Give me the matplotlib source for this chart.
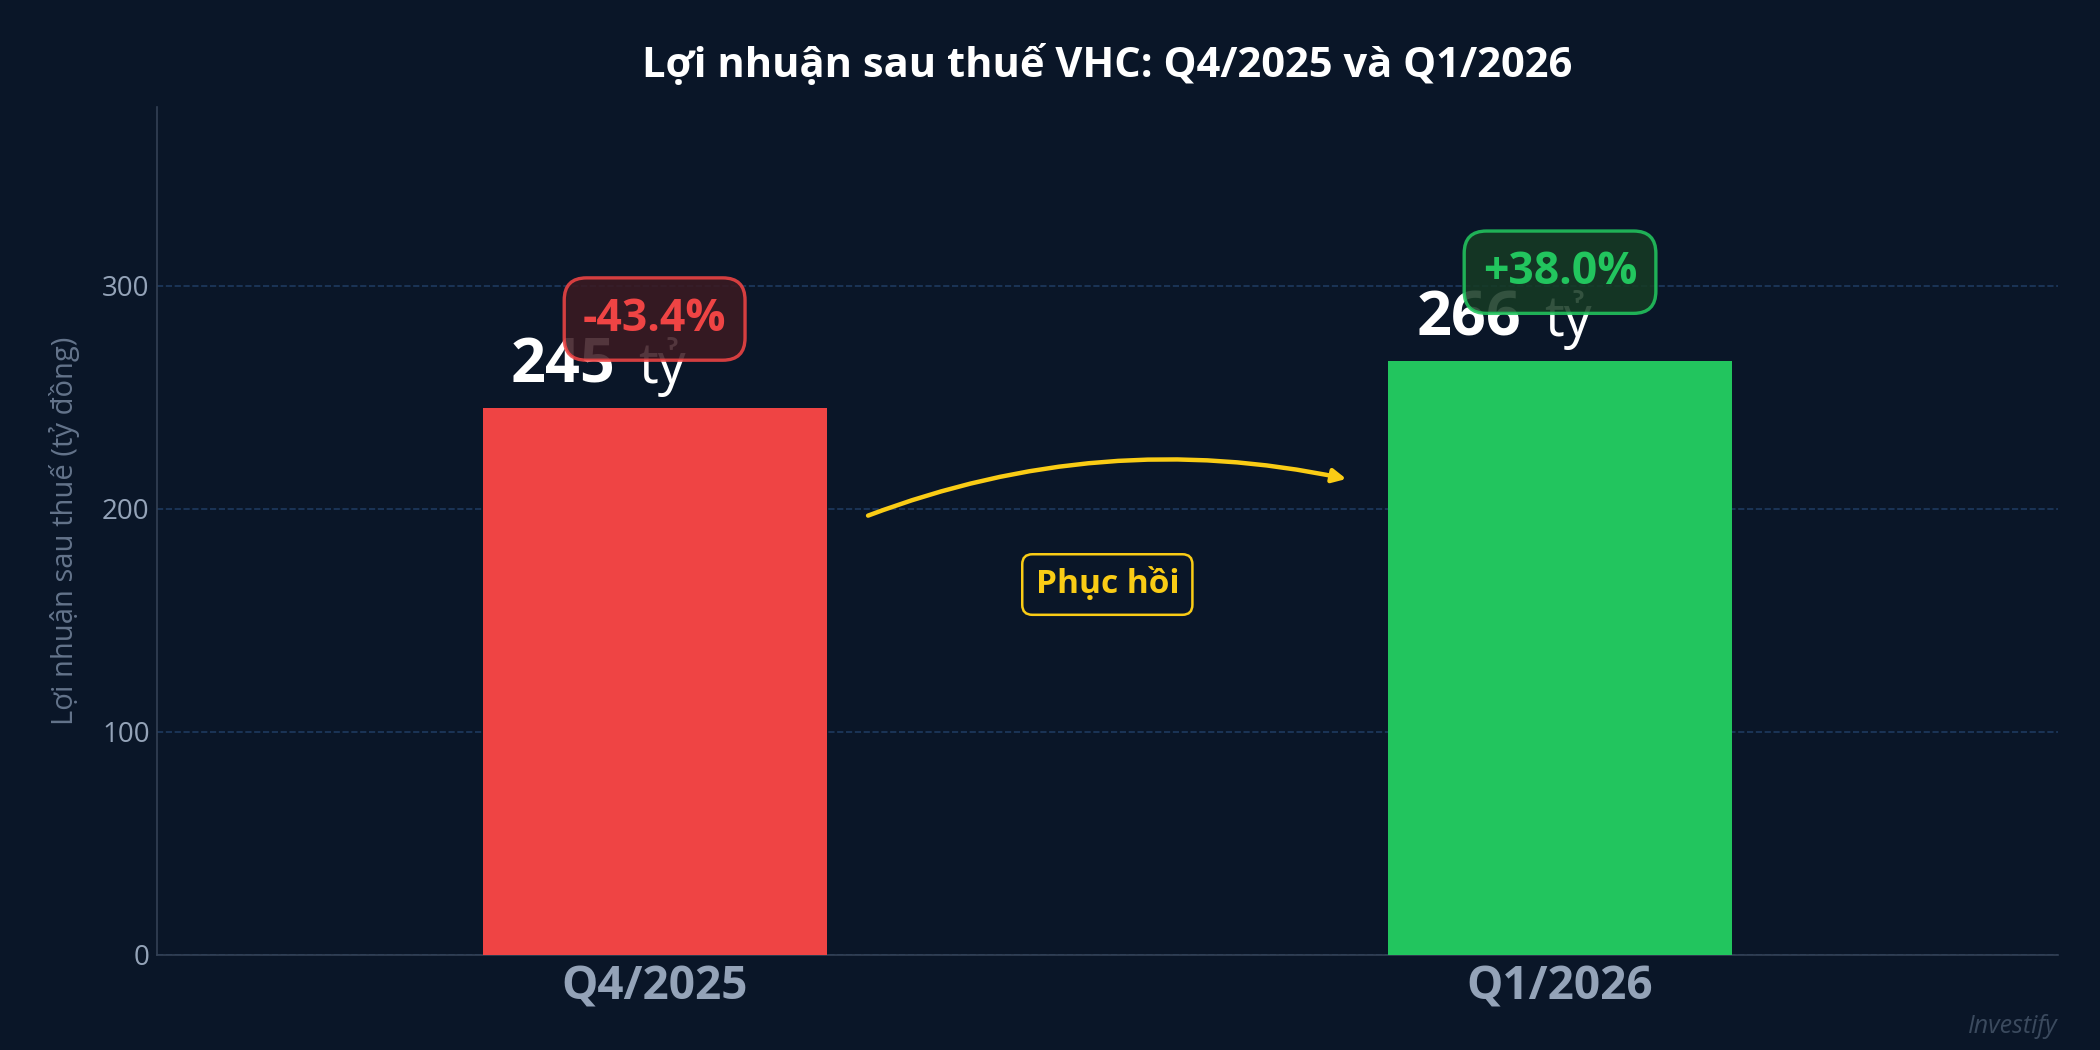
import matplotlib.pyplot as plt
import numpy as np

plt.rcParams['font.family'] = ['Open Sans', 'Noto Sans', 'DejaVu Sans']

# Données
quarters = ['Q4/2025', 'Q1/2026']
profits = [245, 266]
changes = ['-43.4%', '+38.0%']
bar_colors = ['#ef4444', '#22c55e']
box_faces = ['#3b1a22', '#163a24']
unit = 'tỷ'
bg = '#0a1628'

fig, ax = plt.subplots(figsize=(10.5, 5.25), dpi=200)
fig.patch.set_facecolor(bg)
ax.set_facecolor(bg)
fig.subplots_adjust(left=0.0746, right=0.980, bottom=0.0906, top=0.898)

x = np.arange(len(quarters))
ax.bar(x, profits, width=0.38, color=bar_colors, zorder=3)

ax.set_xlim(-0.55, 1.55)
ax.set_ylim(0, 380)
ax.set_yticks([0, 100, 200, 300])
ax.set_xticks(x)
ax.set_xticklabels(quarters, fontsize=16.5, fontweight='bold', color='#94a3b8')
ax.tick_params(axis='y', colors='#94a3b8', labelsize=10, length=0, pad=2.5)
ax.tick_params(axis='x', length=0, pad=3)
ax.yaxis.grid(True, linestyle='--', color='#1e3a5f', linewidth=0.6, zorder=0)
ax.set_axisbelow(True)
for s in ['top', 'right']:
    ax.spines[s].set_visible(False)
for s in ['left', 'bottom']:
    ax.spines[s].set_color('#334155')
    ax.spines[s].set_linewidth(0.6)

ax.set_ylabel('Lợi nhuận sau thuế (tỷ đồng)', color='#64748b', fontsize=10.5, labelpad=8)
ax.set_title('Lợi nhuận sau thuế VHC: Q4/2025 và Q1/2026', color='white',
             fontsize=15, fontweight='bold', pad=11)

# Valeurs + variations
for i, v in enumerate(profits):
    ax.text(i - 0.043, v + 5, str(v), ha='right', va='bottom', color='white',
            fontsize=22, fontweight='bold', zorder=4)
    ax.text(i - 0.018, v + 5, unit, ha='left', va='bottom', color='white',
            fontsize=20, zorder=4)
    ax.text(i, v + 40, changes[i], ha='center', va='center', color=bar_colors[i],
            fontsize=16, fontweight='bold', zorder=5,
            bbox=dict(boxstyle='round,pad=0.42,rounding_size=0.5', facecolor=box_faces[i],
                      edgecolor=bar_colors[i], linewidth=1.2, alpha=0.88))

# Flèche de reprise
ax.annotate('', xy=(0.77, profits[1] * 0.8), xytext=(0.23, profits[0] * 0.8),
            arrowprops=dict(arrowstyle='-|>', color='#facc15', lw=1.6,
                            mutation_scale=10, connectionstyle='arc3,rad=-0.15'),
            zorder=4)
ax.text(0.5, 166, 'Phục hồi', ha='center', va='center', color='#facc15',
        fontsize=12, fontweight='bold', zorder=5,
        bbox=dict(boxstyle='round,pad=0.4,rounding_size=0.3', facecolor=bg,
                  edgecolor='#facc15', linewidth=0.9))

fig.text(0.98, 0.022, 'Investify', ha='right', va='center', color='#3b4a5e',
         fontsize=9, style='italic')

plt.savefig('out.png', dpi=200, facecolor=bg)
